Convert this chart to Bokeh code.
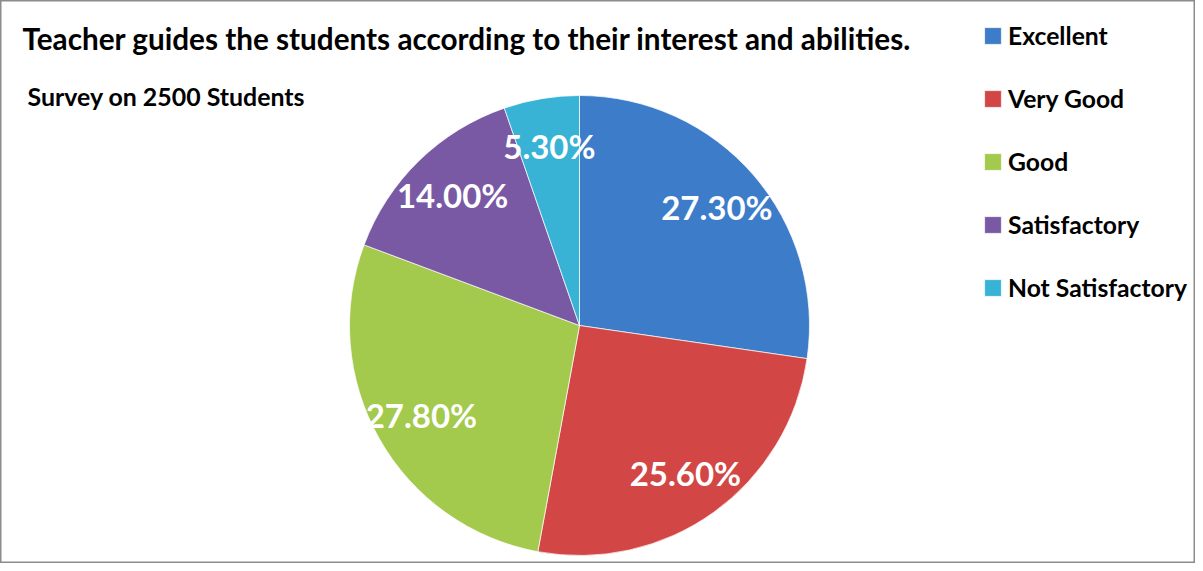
import numpy as np
from bokeh.plotting import figure
from bokeh.models import Range1d, Label, Legend, LegendItem, ColumnDataSource
from bokeh.core.properties import value
from bokeh.embed import file_html
from bokeh.resources import INLINE

categories = ["Excellent", "Very Good", "Good", "Satisfactory", "Not Satisfactory"]
percents = [27.3, 25.6, 27.8, 14.0, 5.3]
colors = ["#3d7cc8", "#d24745", "#a3c94d", "#7a59a4", "#38b3d6"]
title_text = "Teacher guides the students according to their interest and abilities."
subtitle_text = "Survey on 2500 Students"

W, H = 1195, 563
CX, CY, R = 579, 238, 230
LABEL_R = 0.79

frac = np.array(percents) / 100.0
c1 = np.cumsum(frac)
c0 = c1 - frac
start = np.pi / 2 - c0 * 2 * np.pi
end = np.pi / 2 - c1 * 2 * np.pi
mid = (start + end) / 2

src = ColumnDataSource(dict(
    cat=categories, start=start, end=end, color=colors,
    lx=CX + LABEL_R * R * np.cos(mid), ly=CY + LABEL_R * R * np.sin(mid),
    txt=["%.2f%%" % v for v in percents],
))

p = figure(width=W, height=H, x_range=Range1d(0, W), y_range=Range1d(0, H),
           output_backend="svg", toolbar_location=None, min_border=0)
p.axis.visible = False
p.grid.visible = False
p.background_fill_color = "white"
p.outline_line_color = "#8c8c8c"
p.outline_line_width = 2

wedges = p.wedge(x=CX, y=CY, radius=R, start_angle="start", end_angle="end",
                 direction="clock", fill_color="color", line_color="white",
                 line_width=1, line_alpha=0.7, source=src)

p.text(x="lx", y="ly", text="txt", source=src, text_color="white",
       text_font=value("Lato"), text_font_style="bold", text_font_size="33px",
       text_align="center", text_baseline="middle")

items = [LegendItem(label=c, renderers=[wedges], index=i) for i, c in enumerate(categories)]
legend = Legend(items=items, location=(982, 261), orientation="vertical",
                glyph_width=21, glyph_height=21, label_height=21, spacing=34,
                label_standoff=5, padding=0, margin=0,
                label_text_font="Lato", label_text_font_style="bold",
                label_text_font_size="24.7px", label_text_color="black",
                border_line_color=None, background_fill_alpha=0)
p.add_layout(legend)

p.add_layout(Label(x=22, y=H - 38, x_units="screen", y_units="screen",
                   text=title_text, text_font="Lato", text_font_style="bold",
                   text_font_size="29.7px", text_color="black", text_baseline="middle"))
p.add_layout(Label(x=27, y=H - 95, x_units="screen", y_units="screen",
                   text=subtitle_text, text_font="Lato", text_font_style="bold",
                   text_font_size="24.9px", text_color="black", text_baseline="middle"))

open("out.html", "w").write(file_html(p, INLINE))
